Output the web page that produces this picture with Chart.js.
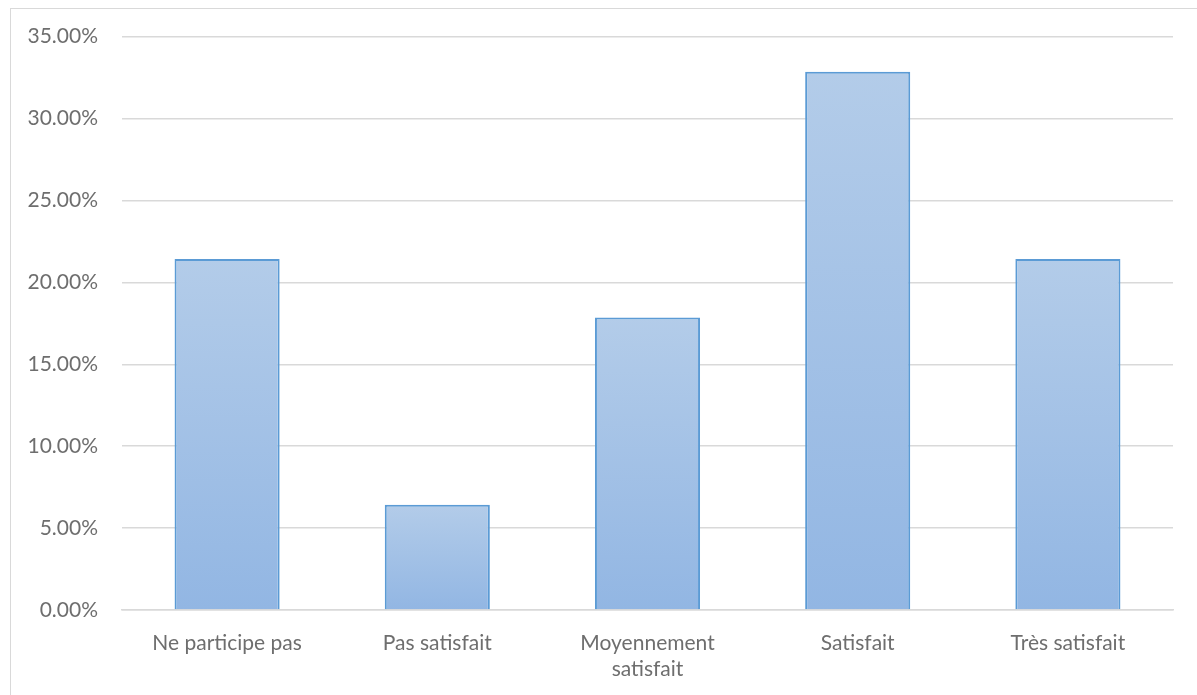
<!DOCTYPE html>
<html>
<head>
<meta charset="utf-8">
<script src="https://cdn.jsdelivr.net/npm/chart.js@4/dist/chart.umd.min.js"></script>
<style>
  html, body { margin: 0; padding: 0; background: #fff; }
  #frame { position: absolute; left: 10px; top: 8px; width: 1200px; height: 700px; border: 1.5px solid #d9d9d9; box-sizing: border-box; }
  #c { position: absolute; left: 0; top: 0; }
</style>
</head>
<body>
<div id="frame"></div>
<canvas id="c" width="1197" height="695"></canvas>
<script>
'use strict';

/* ── data ── */
const categories = ['Ne participe pas', 'Pas satisfait', ['Moyennement', 'satisfait'], 'Satisfait', 'Très satisfait'];
const shares = [21.43, 6.43, 17.86, 32.86, 21.43];
const yMax = 35;
const yStep = 5;

/* ── per-bar vertical gradient (light top → darker bottom) ── */
function barFill(ctx) {
  const chart = ctx.chart;
  const area = chart.chartArea;
  if (!area || ctx.type !== 'data') return '#a5c2e6';
  const y = chart.scales.y;
  const top = y.getPixelForValue(ctx.raw);
  const bottom = y.getPixelForValue(0);
  const g = chart.ctx.createLinearGradient(0, top, 0, bottom);
  g.addColorStop(0, '#b3cce9');
  g.addColorStop(1, '#92b6e3');
  return g;
}

new Chart(document.getElementById('c'), {
  type: 'bar',
  data: {
    labels: categories,
    datasets: [{
      data: shares,
      backgroundColor: barFill,
      borderColor: '#5b9bd5',
      borderWidth: 2,
      borderSkipped: 'bottom',
      barPercentage: 1,
      categoryPercentage: 0.5
    }]
  },
  options: {
    responsive: false,
    animation: false,
    layout: { padding: { top: 32, right: 24, left: 10, bottom: 0 } },
    plugins: { legend: { display: false }, tooltip: { enabled: false } },
    scales: {
      x: {
        grid: { display: false },
        border: { color: '#d9d9d9', width: 1.5 },
        ticks: { color: '#6e6e6e', font: { family: 'Lato', size: 21, lineHeight: 1.25 }, padding: 12, maxRotation: 0, autoSkip: false },
        afterFit: s => { s.height = 85; }
      },
      y: {
        min: 0, max: yMax,
        grid: { color: '#d9d9d9', lineWidth: 1.5, drawTicks: false },
        border: { display: false },
        ticks: {
          stepSize: yStep,
          color: '#6e6e6e',
          font: { family: 'Lato', size: 21 },
          padding: 24,
          callback: v => v.toFixed(2) + '%'
        },
        afterFit: s => { s.width = 112; }
      }
    }
  }
});
</script>
</body>
</html>
